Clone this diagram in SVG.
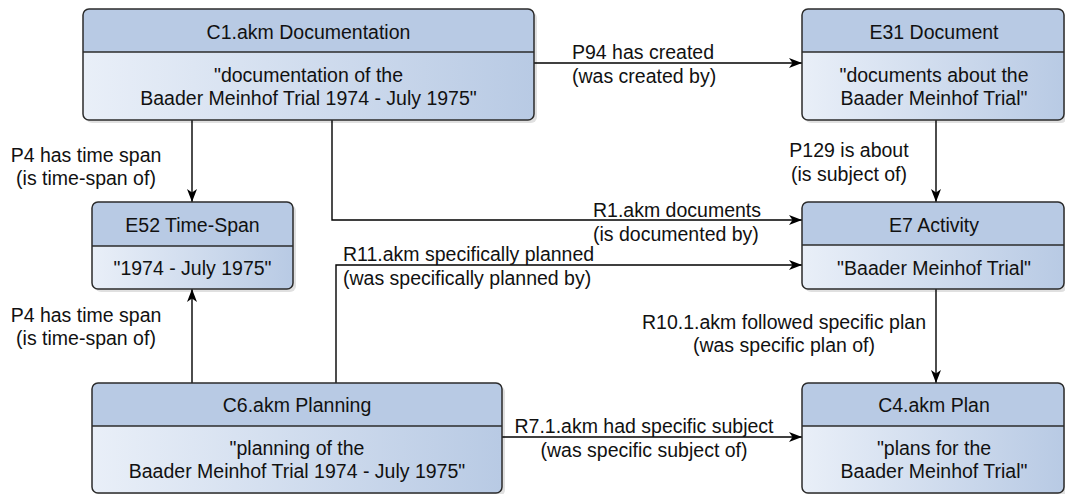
<svg xmlns="http://www.w3.org/2000/svg" width="1065" height="494" viewBox="0 0 1065 494">
<style>
text{font-family:"Liberation Sans",Arial,sans-serif;font-size:19.5px;fill:#111}
.t{text-anchor:middle}
.hd{fill:#b8cae4}
.body{fill:url(#g)}
.ol{fill:none;stroke:#2b2b2b;stroke-width:1.5}
.dv{stroke:#2b2b2b;stroke-width:1.5}
.sh{fill:#000;opacity:0.12}
.c{fill:none;stroke:#000;stroke-width:1.4;marker-end:url(#a)}
</style>
<defs>
<linearGradient id="g" x1="0" y1="0" x2="1" y2="0">
<stop offset="0" stop-color="#e9eff8"/>
<stop offset="1" stop-color="#b8cae4"/>
</linearGradient>
<marker id="a" markerUnits="userSpaceOnUse" markerWidth="14" markerHeight="12" refX="13" refY="5" orient="auto">
<path d="M0,0 L13,5 L0,10 L3.5,5 Z" fill="#000"/>
</marker>
</defs>

<g id="connectors">
<path class="c" d="M534,63 H802"/>
<path class="c" d="M192,120 V202"/>
<path class="c" d="M332,120 V220 H802"/>
<path class="c" d="M936,120 V202"/>
<path class="c" d="M192,383 V289"/>
<path class="c" d="M336,383 V265 H802"/>
<path class="c" d="M936,289 V383"/>
<path class="c" d="M502,437 H802"/>
<text x="572" y="59">P94 has created</text>
<text x="572" y="83">(was created by)</text>
<text class="t" x="86" y="162">P4 has time span</text>
<text class="t" x="86" y="185">(is time-span of)</text>
<text x="593" y="217">R1.akm documents</text>
<text x="593" y="241">(is documented by)</text>
<text class="t" x="849" y="157">P129 is about</text>
<text class="t" x="849" y="181">(is subject of)</text>
<text x="343" y="261">R11.akm specifically planned</text>
<text x="343" y="285">(was specifically planned by)</text>
<text class="t" x="86" y="322">P4 has time span</text>
<text class="t" x="86" y="345">(is time-span of)</text>
<text class="t" x="784" y="329">R10.1.akm followed specific plan</text>
<text class="t" x="784" y="352">(was specific plan of)</text>
<text class="t" x="644" y="433">R7.1.akm had specific subject</text>
<text class="t" x="644" y="457">(was specific subject of)</text>
</g>

<g id="c1">
<rect class="sh" x="86" y="12" width="451" height="111" rx="6"/>
<rect class="body" x="83" y="9" width="451" height="111" rx="6"/>
<path class="hd" d="M83,52 V15 Q83,9 89,9 H528 Q534,9 534,15 V52 Z"/>
<line class="dv" x1="83" y1="52" x2="534" y2="52"/>
<rect class="ol" x="83" y="9" width="451" height="111" rx="6"/>
<text class="t" x="308.5" y="39">C1.akm Documentation</text>
<text class="t" x="308.5" y="82">"documentation of the</text>
<text class="t" x="308.5" y="105">Baader Meinhof Trial 1974 - July 1975"</text>
</g>

<g id="e31">
<rect class="sh" x="805" y="12" width="262" height="111" rx="6"/>
<rect class="body" x="802" y="9" width="262" height="111" rx="6"/>
<path class="hd" d="M802,52 V15 Q802,9 808,9 H1058 Q1064,9 1064,15 V52 Z"/>
<line class="dv" x1="802" y1="52" x2="1064" y2="52"/>
<rect class="ol" x="802" y="9" width="262" height="111" rx="6"/>
<text class="t" x="934" y="39">E31 Document</text>
<text class="t" x="934" y="82">"documents about the</text>
<text class="t" x="934" y="105">Baader Meinhof Trial"</text>
</g>

<g id="e52">
<rect class="sh" x="95" y="205" width="201" height="87" rx="6"/>
<rect class="body" x="92" y="202" width="201" height="87" rx="6"/>
<path class="hd" d="M92,246 V208 Q92,202 98,202 H287 Q293,202 293,208 V246 Z"/>
<line class="dv" x1="92" y1="246" x2="293" y2="246"/>
<rect class="ol" x="92" y="202" width="201" height="87" rx="6"/>
<text class="t" x="192.5" y="232">E52 Time-Span</text>
<text class="t" x="192.5" y="275">"1974 - July 1975"</text>
</g>

<g id="e7">
<rect class="sh" x="805" y="205" width="262" height="87" rx="6"/>
<rect class="body" x="802" y="202" width="262" height="87" rx="6"/>
<path class="hd" d="M802,245 V208 Q802,202 808,202 H1058 Q1064,202 1064,208 V245 Z"/>
<line class="dv" x1="802" y1="245" x2="1064" y2="245"/>
<rect class="ol" x="802" y="202" width="262" height="87" rx="6"/>
<text class="t" x="934" y="232">E7 Activity</text>
<text class="t" x="934" y="275">"Baader Meinhof Trial"</text>
</g>

<g id="c6">
<rect class="sh" x="95" y="386" width="410" height="110" rx="6"/>
<rect class="body" x="92" y="383" width="410" height="110" rx="6"/>
<path class="hd" d="M92,426 V389 Q92,383 98,383 H496 Q502,383 502,389 V426 Z"/>
<line class="dv" x1="92" y1="426" x2="502" y2="426"/>
<rect class="ol" x="92" y="383" width="410" height="110" rx="6"/>
<text class="t" x="297" y="412">C6.akm Planning</text>
<text class="t" x="297" y="455">"planning of the</text>
<text class="t" x="297" y="478">Baader Meinhof Trial 1974 - July 1975"</text>
</g>

<g id="c4">
<rect class="sh" x="805" y="386" width="262" height="110" rx="6"/>
<rect class="body" x="802" y="383" width="262" height="110" rx="6"/>
<path class="hd" d="M802,426 V389 Q802,383 808,383 H1058 Q1064,383 1064,389 V426 Z"/>
<line class="dv" x1="802" y1="426" x2="1064" y2="426"/>
<rect class="ol" x="802" y="383" width="262" height="110" rx="6"/>
<text class="t" x="934" y="412">C4.akm Plan</text>
<text class="t" x="934" y="455">"plans for the</text>
<text class="t" x="934" y="478">Baader Meinhof Trial"</text>
</g>
</svg>
